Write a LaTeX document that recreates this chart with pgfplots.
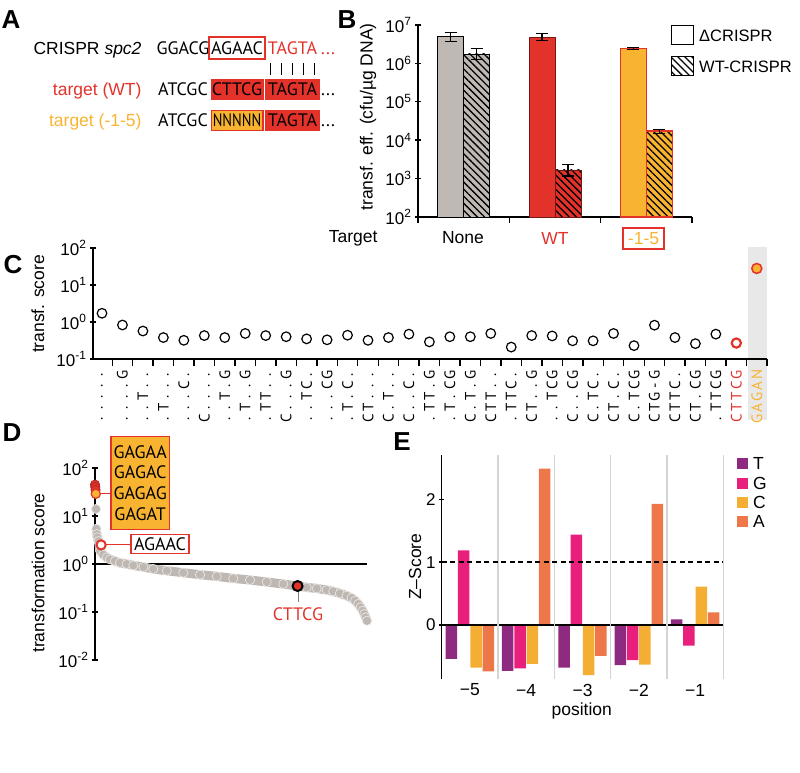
\documentclass[border=0pt]{standalone}
\usepackage{pgfplots}
\usepackage{pgfplotstable}
\pgfplotsset{compat=1.18}
\usepackage{fontspec}
\setmainfont{Liberation Sans}
\newfontfamily\seqfont{PT Sans}
\usetikzlibrary{patterns.meta}

\definecolor{cred}{HTML}{E2322A}
\definecolor{cyel}{HTML}{F8B331}
\definecolor{bgray}{HTML}{BFB8B3}
\definecolor{dgray}{HTML}{BEB7B2}
\definecolor{zT}{HTML}{8E2A7F}
\definecolor{zG}{HTML}{E8207B}
\definecolor{zC}{HTML}{F4AE34}
\definecolor{zA}{HTML}{EE774A}

\newcommand\fsz{\fontsize{17.5}{21}\selectfont}
\newcommand\seqf{\seqfont\fontsize{18}{20.7}\selectfont}
\newcommand\pd{.}
\newcommand\sq[5]{\makebox[11pt]{#1}\makebox[11pt]{#2}\makebox[11pt]{#3}\makebox[11pt]{#4}\makebox[11pt]{#5}}
\newcommand\tenpow{10\textsuperscript{\pgfmathparse{int(round(\tick))}\pgfmathresult}}

\pgfplotsset{
  fig/.style={scale only axis, anchor=south west, clip=false,
    axis line style={-, line width=1.4pt, black},
    tick style={line width=1.4pt, black}, major tick length=6pt, tick align=outside,
    minor tick style={draw=none},
    tick label style={font=\fontsize{17}{20}\selectfont}},
}
\tikzset{hatch/.style={postaction={pattern color=black, pattern={Lines[angle=-45,distance=5pt,line width=1.3pt]}}}}

% panel D: sorted transformation scores (rank, score)
\pgfplotstableread{
r v
6 5.4
8 4.2
10 3.6
14 3.0
20 1.89
32 1.56
45 1.37
57 1.25
76 1.155
95 1.06
120 1.00
145 0.935
183 0.866
220 0.787
271 0.725
333 0.659
396 0.599
459 0.552
521 0.501
584 0.464
647 0.422
709 0.383
763 0.348
797 0.325
835 0.310
872 0.287
897 0.269
922 0.244
947 0.219
966 0.196
979 0.172
991 0.147
1000 0.125
1008 0.106
1014 0.0908
1019 0.0772
1024 0.0659
}\bandD

\begin{document}
\begin{tikzpicture}[x=1pt,y=1pt,font=\fsz]
\useasboundingbox (0,0) rectangle (800,772);

% ---------- panel letters
\foreach \l/\px/\py in {A/11/752, B/347/752, C/13/507, D/12/339, E/402/330}
  \node[font=\bfseries\fontsize{26}{28}\selectfont] at (\px,\py) {\l};

% ---------- panel A
\node[anchor=base east] at (145,717) {CRISPR \textit{spc2}};
\node[anchor=base, font=\seqf] at (183,717) {GGACG};
\draw[cred, line width=1.2pt] (209,713) rectangle (265,735);
\node[anchor=base, font=\seqf] at (237,717) {AGAAC};
\node[anchor=base, font=\seqf, cred] at (292.5,717) {TAGTA};
\node[anchor=base west, font=\seqf, cred, inner sep=1pt] at (320,717) {\pd\pd\pd};
\foreach \xx in {270.5,281.5,292.5,303.5,314.5}
  \draw[line width=1pt] (\xx,697) -- (\xx,709);

\node[anchor=base east, cred] at (145,676) {target (WT)};
\node[anchor=base, font=\seqf] at (183,676) {ATCGC};
\fill[cred] (211,672) rectangle (263.5,693);
\fill[cred] (265,672) rectangle (320,693);
\node[anchor=base, font=\seqf] at (237,676) {CTTCG};
\node[anchor=base, font=\seqf] at (292.5,676) {TAGTA};
\node[anchor=base west, font=\seqf, inner sep=1pt] at (320,676) {\pd\pd\pd};

\node[anchor=base east, cyel] at (145,645) {target (-1-5)};
\node[anchor=base, font=\seqf] at (183,645) {ATCGC};
\filldraw[fill=cyel, draw=cred, line width=1.5pt] (211.5,641.5) rectangle (263,661.5);
\fill[cred] (265,641) rectangle (320,662);
\node[anchor=base, font=\seqf] at (237,645) {\scalebox{0.8}[1]{NNNNN}};
\node[anchor=base, font=\seqf] at (292.5,645) {TAGTA};
\node[anchor=base west, font=\seqf, inner sep=1pt] at (320,645) {\pd\pd\pd};

% ---------- panel B
\begin{axis}[fig, ymode=log, log basis y=10, yticklabel={\tenpow},
  at={(418pt,555pt)}, width=274pt, height=192pt,
  ymin=100, ymax=1e7, log origin=infty, xmin=-0.5, xmax=2.5,
  axis lines=left, axis line style={-},
  ytick={1e2,1e3,1e4,1e5,1e6,1e7},
  xtick={-0.5,0.5,1.5,2.5}, xticklabels={},
  ybar, bar width=26pt,
  error bars/y dir=both, error bars/y explicit,
  error bars/error bar style={line width=1.2pt, black},
  error bars/error mark options={rotate=90, line width=1.2pt, black, mark size=6pt}]
\addplot[bar shift=-13pt, fill=bgray, draw=black, line width=0.8pt]
  coordinates {(0,4.9e6) += (0,1.4e6) -= (0,1.2e6)};
\addplot[bar shift=13pt, fill=bgray, draw=black, line width=0.8pt, hatch]
  coordinates {(0,1.76e6) += (0,0.7e6) -= (0,0.48e6)};
\addplot[bar shift=-13pt, fill=cred, draw=black!50!cred, line width=0.8pt]
  coordinates {(1,4.8e6) += (0,1.1e6) -= (0,0.8e6)};
\addplot[bar shift=13pt, fill=cred, draw=black!50!cred, line width=0.8pt, hatch]
  coordinates {(1,1.68e3) += (0,0.67e3) -= (0,0.51e3)};
\addplot[bar shift=-13pt, fill=cyel, draw=cred, line width=1.2pt]
  coordinates {(2,2.42e6) += (0,0.13e6) -= (0,0.12e6)};
\addplot[bar shift=13pt, fill=cyel, draw=cred, line width=1.2pt, hatch]
  coordinates {(2,1.74e4) += (0,0.18e4) -= (0,0.23e4)};
\end{axis}
\node[rotate=90] at (368,655) {transf. eff. (cfu/µg DNA)};
\node[anchor=east] at (381,534) {Target};
\node at (463,534) {None};
\node[cred] at (555,534) {WT};
\draw[cred, line width=1.2pt] (623,523) rectangle (664,544);
\node[cyel] at (643.5,533.5) {-1-5};
% legend B
\draw[line width=1pt] (671,727) rectangle (693,746);
\node[anchor=west, inner sep=0, font=\fontsize{16.5}{20}\selectfont] at (699,736.5) {ΔCRISPR};
\path[draw, line width=1pt, pattern color=black, pattern={Lines[angle=-45,distance=5pt,line width=1.3pt]}] (671,696) rectangle (693,715);
\node[anchor=west, inner sep=0, font=\fontsize{16.5}{20}\selectfont] at (699,705.5) {WT-CRISPR};

% ---------- panel C
\fill[black!9] (747.8,352) rectangle (767,525);
\begin{axis}[fig, ymode=log, log basis y=10, yticklabel={\tenpow},
  at={(93pt,413pt)}, width=674pt, height=111pt,
  ymin=0.1, ymax=100, xmin=-0.44, xmax=32.5,
  axis lines=left, axis line style={-},
  ytick={0.1,1,10,100},
  xtick={0,1,2,3,4,5,6,7,8,9,10,11,12,13,14,15,16,17,18,19,20,21,22,23,24,25,26,27,28,29,30,31,32},
  xtick style={draw=none},
  xticklabel shift=7pt,
  xticklabel style={rotate=90, anchor=east, inner sep=0pt, font=\seqfont\fontsize{15}{15}\selectfont},
  xticklabels={\sq\pd\pd\pd\pd\pd, \sq\pd\pd\pd\pd G, \sq\pd\pd T\pd\pd, \sq\pd T\pd\pd\pd, \sq\pd\pd\pd C\pd, \sq C\pd\pd\pd\pd,
    \sq\pd\pd T\pd G, \sq\pd T\pd\pd G, \sq\pd TT\pd\pd, \sq C\pd\pd\pd G, \sq\pd\pd TC\pd, \sq\pd\pd\pd CG,
    \sq\pd T\pd C\pd, \sq CT\pd\pd\pd, \sq C\pd T\pd\pd, \sq C\pd\pd C\pd,
    \sq\pd TT\pd G, \sq\pd T\pd CG, \sq C\pd T\pd G, \sq CTT\pd\pd, \sq\pd TTC\pd, \sq CT\pd\pd G,
    \sq\pd\pd TCG, \sq C\pd\pd CG, \sq C\pd TC\pd, \sq CT\pd C\pd,
    \sq C\pd TCG, \sq CTG-G, \sq CTTC\pd, \sq CT\pd CG, \sq\pd TTCG,
    \textcolor{cred}{\sq CTTCG}, \textcolor{cyel}{\sq GAGAN}}]
\pgfplotsinvokeforeach{0.5,1.5,2.5,3.5,4.5,5.5,6.5,7.5,8.5,9.5,10.5,11.5,12.5,13.5,14.5,15.5,16.5,17.5,18.5,19.5,20.5,21.5,22.5,23.5,24.5,25.5,26.5,27.5,28.5,29.5,30.5,31.5,32.5}{\draw[line width=1.4pt] (axis cs:#1,0.1) -- ++(0pt,-7pt);}
\addplot[only marks, mark=o, mark size=4.8pt, mark options={line width=1.2pt}, black] coordinates {
(0,1.72)(1,0.83)(2,0.57)(3,0.38)(4,0.32)(5,0.43)(6,0.38)(7,0.49)(8,0.43)(9,0.40)
(10,0.35)(11,0.33)(12,0.44)(13,0.32)(14,0.38)(15,0.47)(16,0.29)(17,0.40)(18,0.40)(19,0.49)
(20,0.21)(21,0.43)(22,0.42)(23,0.31)(24,0.31)(25,0.49)(26,0.23)(27,0.82)(28,0.38)(29,0.26)(30,0.47)};
\addplot[only marks, mark=o, mark size=4.6pt, mark options={line width=2.2pt}, cred] coordinates {(31,0.27)};
\addplot[only marks, mark=*, mark size=5pt, mark options={fill=cyel, draw=cred, line width=1.5pt}] coordinates {(32,28)};
\end{axis}
\node[rotate=90] at (38,468) {transf. score};

% ---------- panel D
\draw[cred, line width=1pt] (100,279) -- (111,279);
\draw[cred, line width=1pt] (104,228) -- (131,228);
\draw[gray, line width=1pt] (298,181) -- (298,170);
\begin{axis}[fig, ymode=log, log basis y=10, yticklabel={\tenpow},
  at={(95pt,112pt)}, width=272pt, height=192pt,
  ymin=0.01, ymax=100, xmin=1, xmax=1024,
  axis x line=none, axis y line=left, axis line style={-},
  ytick={0.01,0.1,1,10,100}]
\draw[line width=1.4pt] (axis cs:1,1) -- (axis cs:1024,1);
\addplot[dgray, line width=9pt, line cap=round, line join=round] table {\bandD};
\addplot[only marks, mark=*, mark size=4.6pt, mark options={fill=dgray, draw=white!65!dgray, line width=0.7pt}] table {\bandD};
\addplot[only marks, mark=*, mark size=4.6pt, mark options={fill=dgray, draw=white!65!dgray, line width=0.7pt}] coordinates {(5,14)};
\addplot[only marks, mark=*, mark size=4.6pt, mark options={fill=cred, draw=cred!80!black, line width=0.8pt}] coordinates {(1,45)(2,40)(3,35)};
\addplot[only marks, mark=*, mark size=4.6pt, mark options={fill=cyel, draw=cred, line width=1.2pt}] coordinates {(4,29)};
\addplot[only marks, mark=*, mark size=4.6pt, mark options={fill=white, draw=cred, line width=2pt}] coordinates {(24,2.5)};
\addplot[only marks, mark=*, mark size=5pt, mark options={fill=cred, draw=black, line width=2pt}] coordinates {(763,0.348)};
\end{axis}
\node[rotate=90] at (38,199) {transformation score};
\filldraw[fill=cyel, draw=cred, line width=1.5pt] (111,242.7) rectangle (169.3,335.3);
\node[align=center, font=\seqf, inner sep=0] at (140.2,289) {GAGAA\\GAGAC\\GAGAG\\GAGAT};
\filldraw[fill=white, draw=cred, line width=1.5pt] (131,218.7) rectangle (189,237.7);
\node[font=\seqf, inner sep=0] at (160,228.2) {AGAAC};
\node[font=\seqf, cred] at (298,158) {CTTCG};

% ---------- panel E
\begin{axis}[fig, at={(441.7pt,92.7pt)}, width=281.6pt, height=224.3pt,
  xmin=-5.5, xmax=-0.5, ymin=-0.865, ymax=2.707,
  axis x line=none, axis y line=left, axis line style={-},
  ytick={0,1,2}, major tick length=5pt,
  /pgf/number format/assume math mode=true,
  ybar=0.8pt, bar width=11.5pt]
\addplot[fill=zT, draw=none] coordinates {(-5,-0.54)(-4,-0.73)(-3,-0.68)(-2,-0.64)(-1,0.09)};
\addplot[fill=zG, draw=none] coordinates {(-5,1.19)(-4,-0.69)(-3,1.44)(-2,-0.56)(-1,-0.33)};
\addplot[fill=zC, draw=none] coordinates {(-5,-0.68)(-4,-0.62)(-3,-0.80)(-2,-0.63)(-1,0.61)};
\addplot[fill=zA, draw=none] coordinates {(-5,-0.74)(-4,2.49)(-3,-0.49)(-2,1.93)(-1,0.20)};
\draw[line width=1.4pt] (axis cs:-5.5,0) -- (axis cs:-0.5,0);
\pgfplotsinvokeforeach{-4.5,-3.5,-2.5,-1.5,-0.5}{\draw[black!17, line width=1.6pt] (axis cs:#1,-0.865) -- (axis cs:#1,2.707);}
\draw[line width=1.4pt, dash pattern=on 5pt off 3.5pt] (axis cs:-5.5,1) -- (axis cs:-0.5,1);
\end{axis}
\foreach \xx/\t in {469.9/−5, 526.2/−4, 582.5/−3, 638.8/−2, 695.1/−1}
  \node at (\xx,82) {\t};
\node at (581.7,61.3) {position};
\node[rotate=90] at (415,205.3) {Z–Score};
\foreach \c/\t/\yy in {zT/T/308.7, zG/G/288.7, zC/C/269.3, zA/A/250.3} {
  \fill[\c] (736.7,\yy-5.75) rectangle ++(11.5,11.5);
  \node[anchor=west, inner sep=0] at (753,\yy) {\t};
}
\end{tikzpicture}
\end{document}
